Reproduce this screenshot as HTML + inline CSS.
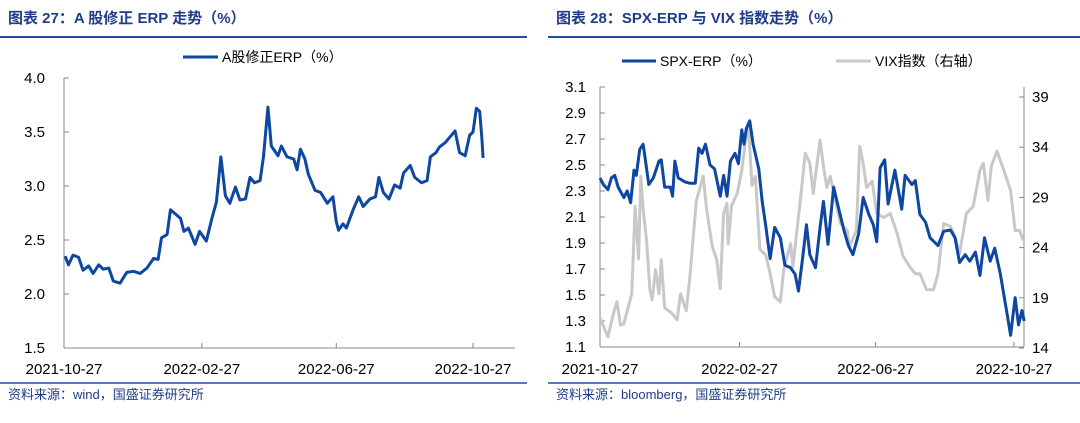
<!DOCTYPE html>
<html><head><meta charset="utf-8"><style>
body{margin:0;width:1080px;height:418px;background:#fff;overflow:hidden;font-family:"Liberation Sans","Noto Sans CJK SC",sans-serif;}
svg text{font-family:"Liberation Sans","Noto Sans CJK SC",sans-serif;}
</style></head><body>
<svg id="c" width="1080" height="418">
<text x="8" y="23" font-size="15" font-weight="bold" fill="#1f3c88">图表 27：A 股修正 ERP 走势（%）</text>
<text x="556" y="23" font-size="15" font-weight="bold" fill="#1f3c88">图表 28：SPX-ERP 与 VIX 指数走势（%）</text>
<line x1="0" y1="37" x2="527" y2="37" stroke="#1f4fa0" stroke-width="2"/>
<line x1="548" y1="37" x2="1080" y2="37" stroke="#1f4fa0" stroke-width="2"/>
<line x1="0" y1="383" x2="527" y2="383" stroke="#1f4fa0" stroke-width="1.5"/>
<line x1="548" y1="383" x2="1080" y2="383" stroke="#1f4fa0" stroke-width="1.5"/>
<text x="8" y="399" font-size="13" fill="#1f3c88">资料来源：wind，国盛证券研究所</text>
<text x="556" y="399" font-size="13" fill="#1f3c88">资料来源：bloomberg，国盛证券研究所</text>
<line x1="183" y1="57" x2="218" y2="57" stroke="#0d47a1" stroke-width="3"/>
<text x="222" y="62" font-size="14" fill="#000">A股修正ERP（%）</text>
<line x1="622" y1="61" x2="656" y2="61" stroke="#0d47a1" stroke-width="3"/>
<text x="660" y="66" font-size="14" fill="#000">SPX-ERP（%）</text>
<line x1="836" y1="61" x2="871" y2="61" stroke="#c8c8c8" stroke-width="3"/>
<text x="875" y="66" font-size="14" fill="#000">VIX指数（右轴）</text>
</svg>
<script>
const aDays=[1,4,8,13,17,22,26,31,35,40,44,50,56,62,68,74,80,84,87,92,95,104,107,111,117,121,127,132,136,140,144,148,153,157,162,166,170,175,178,182,185,191,194,199,205,208,211,215,218,224,229,235,240,243,245,249,252,258,263,267,273,278,281,285,290,295,300,303,309,313,319,324,327,332,335,340,349,353,358,362,365,368,371,373,374];
const aErp=[2.35,2.27,2.36,2.34,2.22,2.26,2.19,2.27,2.23,2.24,2.12,2.10,2.20,2.21,2.19,2.24,2.33,2.32,2.52,2.55,2.78,2.70,2.58,2.61,2.46,2.58,2.49,2.70,2.85,3.27,2.91,2.84,2.99,2.87,2.88,3.08,3.03,3.05,3.27,3.73,3.37,3.28,3.37,3.27,3.25,3.15,3.34,3.25,3.11,2.96,2.94,2.84,2.90,2.67,2.59,2.65,2.61,2.78,2.90,2.81,2.88,2.90,3.08,2.94,2.88,3.01,2.98,3.12,3.19,3.08,3.03,3.05,3.27,3.31,3.36,3.40,3.51,3.31,3.28,3.47,3.50,3.72,3.69,3.43,3.26];
const aTicks=[1.5,2.0,2.5,3.0,3.5,4.0];
const xLabels=["2021-10-27","2022-02-27","2022-06-27","2022-10-27"];
const xTickDays=[0,123,243,365];
const sDays=[0,3,7,10,13,16,21,24,27,30,32,35,38,40,43,47,52,54,57,62,64,66,69,75,79,84,87,90,93,97,101,106,109,112,115,119,122,125,127,129,132,135,140,143,146,150,154,159,163,168,172,175,179,182,185,190,194,197,201,206,210,215,219,223,228,232,237,241,244,247,251,254,260,266,269,275,278,282,287,291,298,303,309,313,317,322,326,331,335,339,344,348,353,359,362,366,369,372,374];
const sErp=[2.40,2.35,2.31,2.40,2.42,2.33,2.25,2.30,2.21,2.46,2.42,2.62,2.66,2.54,2.35,2.40,2.53,2.54,2.33,2.33,2.26,2.53,2.40,2.37,2.36,2.36,2.63,2.59,2.66,2.50,2.47,2.26,2.42,2.26,2.53,2.59,2.51,2.77,2.66,2.78,2.84,2.66,2.47,2.22,2.04,1.78,2.02,1.94,1.73,1.71,1.66,1.53,1.81,2.04,1.81,1.71,2.02,2.22,1.89,2.33,2.18,2.00,1.88,1.81,1.97,2.25,2.12,2.04,1.91,2.48,2.54,2.20,2.46,2.16,2.42,2.35,2.38,2.12,2.06,1.94,1.88,1.99,2.00,1.94,1.75,1.81,1.76,1.83,1.65,1.94,1.76,1.86,1.66,1.35,1.19,1.48,1.27,1.38,1.30];
const vDays=[0,7,12,15,18,21,28,31,34,36,38,41,44,46,49,52,54,57,63,68,71,76,79,85,91,94,99,103,106,109,112,113,116,121,125,128,131,134,137,141,146,150,154,159,162,168,170,176,181,185,188,194,197,200,203,207,212,218,220,226,229,232,235,240,244,250,256,262,267,273,278,282,288,294,298,303,309,313,317,323,329,335,338,342,345,350,356,362,366,370,373];
const vix=[17.0,15.1,17.5,18.6,16.3,16.4,19.4,28.1,22.9,31.1,27.9,24.8,19.8,18.8,21.8,19.4,22.8,18.0,17.5,16.8,19.4,17.7,20.8,28.7,31.1,27.8,24.1,22.8,19.9,27.4,28.4,24.4,28.2,29.4,31.7,34.4,36.0,30.2,31.1,23.8,23.3,21.4,19.1,18.6,21.8,24.4,22.1,28.1,33.4,32.4,29.4,34.7,32.1,30.0,31.1,29.0,26.4,25.7,24.1,25.7,34.1,32.4,30.0,30.6,27.4,27.0,27.4,25.4,23.2,22.1,21.4,21.4,19.8,19.8,21.4,26.4,26.1,25.1,23.4,27.4,28.1,31.7,32.4,28.7,32.1,33.6,31.7,29.7,25.7,25.7,24.7];
const sTicks=[1.1,1.3,1.5,1.7,1.9,2.1,2.3,2.5,2.7,2.9,3.1];
const vTicks=[14,19,24,29,34,39];
const NS="http://www.w3.org/2000/svg",svg=document.getElementById('c');
function mk(t,a){const e=document.createElementNS(NS,t);for(const k in a)e.setAttribute(k,a[k]);svg.appendChild(e);return e;}
// left chart axes
const lx=d=>64+d*(409/365), ly=v=>348-(v-1.5)*108;
let e=mk('line',{x1:64,y1:78,x2:64,y2:348,stroke:'#888'});


e=mk('line',{x1:64,y1:348,x2:515,y2:348,stroke:'#888'});


aTicks.forEach(v=>{mk('line',{x1:64,y1:ly(v),x2:69,y2:ly(v),stroke:'#888'});
 e=mk('text',{x:45,y:ly(v)+5,'font-size':15,'text-anchor':'end',fill:'#000'});e.textContent=v.toFixed(1);
 
 });
xTickDays.forEach((d,i)=>{mk('line',{x1:lx(d),y1:343,x2:lx(d),y2:348,stroke:'#888'});
 e=mk('text',{x:lx(d),y:374,'font-size':15,'text-anchor':'middle',fill:'#000'});e.textContent=xLabels[i];
 
 });
e=mk('polyline',{points:aDays.map((d,i)=>lx(d)+','+ly(aErp[i])).join(' '),fill:'none',stroke:'#0d47a1','stroke-width':3,'stroke-linejoin':'round'});


// right chart
const rx=d=>600+d*(414/365), ry=v=>347-(v-1.1)*130, vy=v=>348-(v-14)*10.04;
e=mk('line',{x1:600,y1:87,x2:600,y2:347,stroke:'#888'});


e=mk('line',{x1:1024,y1:87,x2:1024,y2:347,stroke:'#888'});


e=mk('line',{x1:600,y1:347,x2:1024,y2:347,stroke:'#888'});


sTicks.forEach(v=>{mk('line',{x1:600,y1:ry(v),x2:605,y2:ry(v),stroke:'#888'});
 e=mk('text',{x:586,y:ry(v)+5,'font-size':15,'text-anchor':'end',fill:'#000'});e.textContent=v.toFixed(1);
 
 });
vTicks.forEach(v=>{mk('line',{x1:1019,y1:vy(v),x2:1024,y2:vy(v),stroke:'#888'});
 e=mk('text',{x:1032,y:vy(v)+5,'font-size':15,fill:'#000'});e.textContent=v;
 
 });
xTickDays.forEach((d,i)=>{mk('line',{x1:rx(d),y1:342,x2:rx(d),y2:347,stroke:'#888'});
 e=mk('text',{x:rx(d),y:374,'font-size':15,'text-anchor':'middle',fill:'#000'});e.textContent=xLabels[i];
 
 });
e=mk('polyline',{points:vDays.map((d,i)=>rx(d)+','+vy(vix[i])).join(' '),fill:'none',stroke:'#c8c8c8','stroke-width':3,'stroke-linejoin':'round'});


e=mk('polyline',{points:sDays.map((d,i)=>rx(d)+','+ry(sErp[i])).join(' '),fill:'none',stroke:'#0d47a1','stroke-width':3,'stroke-linejoin':'round'});


</script>
</body></html>
